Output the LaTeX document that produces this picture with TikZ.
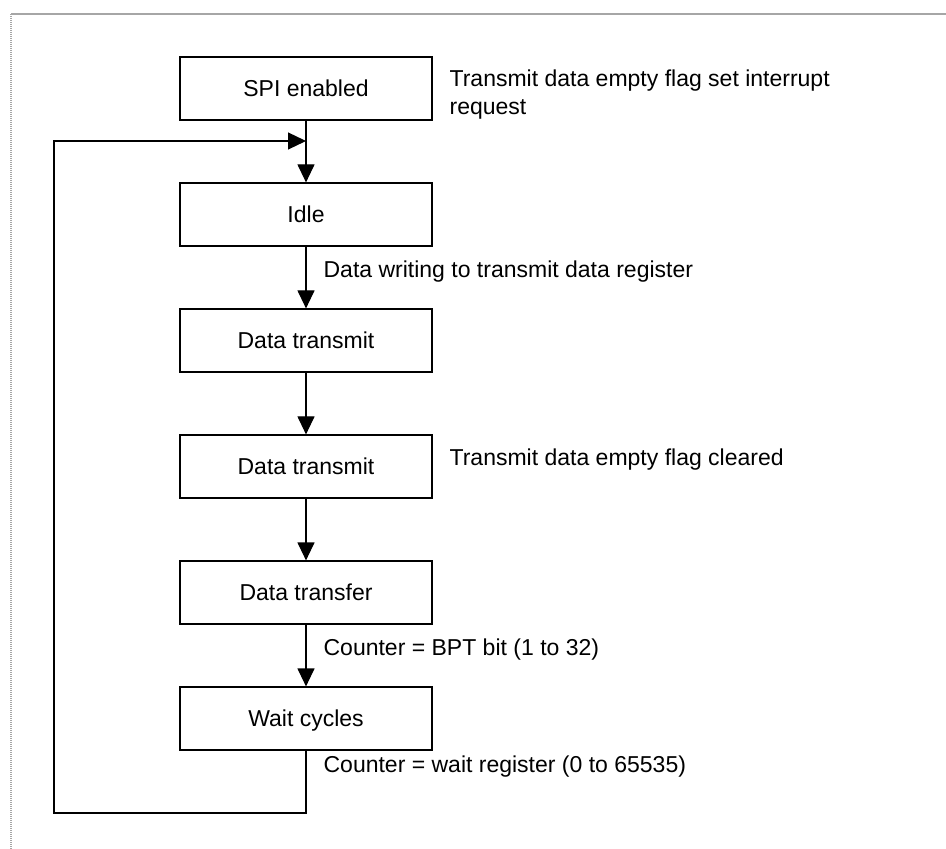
\documentclass[tikz,border=0pt]{standalone}
\usepackage{fontspec}
\setmainfont{Liberation Sans}
\usetikzlibrary{positioning,arrows.meta}

\begin{document}
\begin{tikzpicture}[node distance=63pt, line width=0.6pt, >={Triangle[length=9pt,width=8.5pt]},
  main node/.style={rectangle,draw,minimum width=126pt,minimum height=31.5pt,inner sep=0pt,text height=8.4pt,text depth=0pt,font=\fontsize{11.5}{14}\selectfont},
  note/.style={inner sep=0pt,align=left,font=\fontsize{11.5}{14}\selectfont}]

\useasboundingbox (0,0) rectangle (473pt,-424.5pt);
\draw[gray!70,line width=1pt] (5.5pt,-7pt) -- (473pt,-7pt);
\draw[gray!70,line width=0.6pt,dash pattern=on 0.5pt off 0.5pt] (5.5pt,-7pt) -- (5.5pt,-424.5pt);

\node[main node] (1) at (153pt,-44.25pt) {SPI enabled};
\node[main node] (2) [below of=1] {Idle};
\node[main node] (3) [below of=2] {Data transmit};
\node[main node] (4) [below of=3] {Data transmit};
\node[main node] (5) [below of=4] {Data transfer};
\node[main node] (6) [below of=5] {Wait cycles};

\coordinate (join) at (153pt,-70.5pt);
\coordinate (corner) at (27pt,-406.5pt);

\node[note, anchor=base west] (n1) at (224.5pt,-57.5pt) {Transmit data empty flag set interrupt\\request};
\node[note, anchor=base west] (n4) at (224.5pt,-232.5pt) {Transmit data empty flag cleared};

\path[->]
    (1) edge (2)
    (2) edge node [note, anchor=base west, xshift=8.5pt] {Data writing to transmit data register} (3)
    (3) edge (4)
    (4) edge (5)
    (5) edge node [note, anchor=base west, xshift=8.5pt] {Counter = BPT bit (1 to 32)} (6);

\draw[->] (6.south) |- (corner) |- (join);
\node[note, anchor=base west] (n6) at (161.5pt,-386pt) {Counter = wait register (0 to 65535)};

\end{tikzpicture}
\end{document}
